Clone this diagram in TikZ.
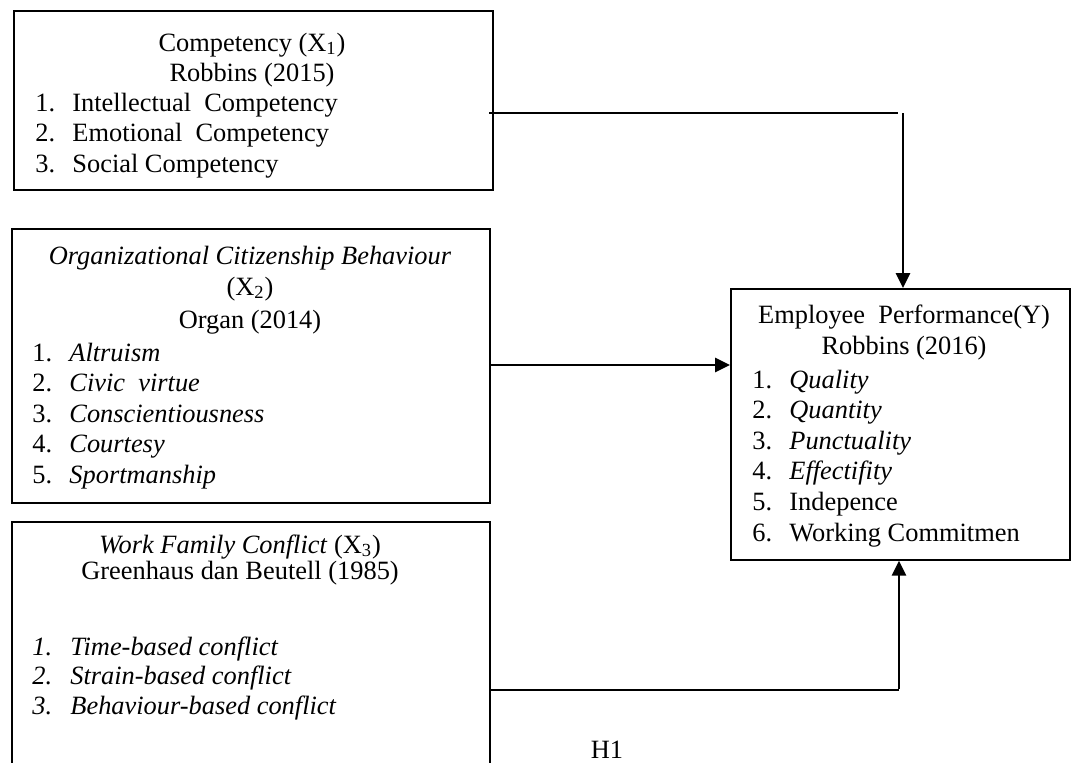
\documentclass[tikz,border=0pt]{standalone}
\usepackage{fontspec}
\setmainfont{Liberation Serif}
\usetikzlibrary{arrows.meta}

\begin{document}
\begin{tikzpicture}[x=0.5pt,y=-0.5pt,
    box/.style={draw,line width=0.8pt,anchor=north west,inner sep=0pt},
    txt/.style={anchor=base,inner sep=0pt,font=\fontsize{13.2}{15.2}\selectfont},
    lft/.style={txt,anchor=base west},
    thinline/.style={line width=0.55pt},
    bigarrow/.style={line width=1.35pt,-{Triangle[length=7.5pt,width=7pt]}}]

    \useasboundingbox (0,0) rectangle (1072,762);

    % boxes
    \node[box,minimum width=239.5pt,minimum height=89.5pt] (comp) at (13,10) {};
    \node[box,minimum width=239pt,minimum height=137pt] (ocb) at (11,228) {};
    \node[box,minimum width=239pt,minimum height=130pt] (wfc) at (11,521) {};
    \node[box,minimum width=169.5pt,minimum height=135.5pt] (perf) at (730,288) {};

    % competency
    \node[txt] (comp-t) at (252,51) {Competency (X\textsubscript{1})};
    \node[txt] (comp-r) at (252,81) {Robbins (2015)};
    \foreach \t [count=\i] in {Intellectual\ \ Competency,Emotional\ \ Competency,Social Competency}{
        \node[lft] (comp-n\i) at (35,{81+30.4*\i}) {\i.};
        \node[lft] (comp-i\i) at (72,{81+30.4*\i}) {\t};
    }

    % OCB
    \node[txt] (ocb-t) at (250,264) {\textit{Organizational Citizenship Behaviour}};
    \node[txt] (ocb-x) at (250,295) {(X\textsubscript{2})};
    \node[txt] (ocb-r) at (250,328) {Organ (2014)};
    \foreach \t [count=\i] in {Altruism,Civic\ \ virtue,Conscientiousness,Courtesy,Sportmanship}{
        \node[lft] (ocb-n\i) at (32,{331+30.4*\i}) {\i.};
        \node[lft] (ocb-i\i) at (69,{331+30.4*\i}) {\textit{\t}};
    }

    % WFC
    \node[txt] (wfc-t) at (240,553) {\textit{Work Family Conflict} (X\textsubscript{3})};
    \node[txt] (wfc-r) at (240,579) {Greenhaus dan Beutell (1985)};
    \foreach \t [count=\i] in {Time-based conflict,Strain-based conflict,Behaviour-based conflict}{
        \node[lft] (wfc-n\i) at (32,{625.5+29.6*\i}) {\textit{\i.}};
        \node[lft] (wfc-i\i) at (70,{625.5+29.6*\i}) {\textit{\t}};
    }

    % performance
    \node[txt] (perf-t) at (904,323) {Employee\ \ Performance(Y)};
    \node[txt] (perf-r) at (904,354) {Robbins (2016)};
    \foreach \t [count=\i] in {\textit{Quality},\textit{Quantity},\textit{Punctuality},\textit{Effectifity},Indepence,Working Commitmen}{
        \node[lft] (perf-n\i) at (752,{357.5+30.6*\i}) {\i.};
        \node[lft] (perf-i\i) at (789,{357.5+30.6*\i}) {\t};
    }

    \node[txt] (h1) at (607,758) {H1};

    % connectors
    \coordinate (a1) at (489,113);
    \coordinate (a2) at (898,113);
    \coordinate (a3) at (903,113);
    \draw[thinline] (a1) -- (a2);
    \draw[bigarrow] (a3) -- (a3 |- perf.north);

    \coordinate (b1) at (491,365);
    \draw[bigarrow] (b1) -- (b1 -| perf.west);

    \coordinate (d1) at (491,690);
    \coordinate (d2) at (899,690);
    \draw[thinline] (d1) -- (d2);
    \draw[bigarrow] ([yshift=0.3pt]d2) -- (d2 |- perf.south);
\end{tikzpicture}
\end{document}
